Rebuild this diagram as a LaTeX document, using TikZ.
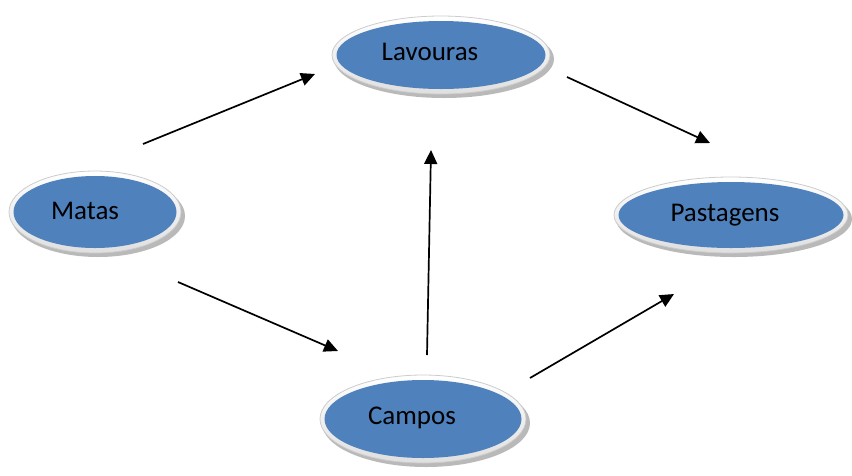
\documentclass[tikz,border=0pt]{standalone}
\usepackage{fontspec}
\setmainfont{Carlito}
\usetikzlibrary{shapes.geometric,arrows.meta}
\definecolor{blob}{HTML}{4F81BD}
\tikzset{
  rim/.style={ellipse, draw=gray!40, line width=0.8pt, top color=white, bottom color=gray!25, inner sep=0pt},
  shade/.style={ellipse, fill=gray!55, inner sep=0pt, draw=none},
  blue/.style={ellipse, fill=blob, draw=none, inner sep=0pt},
  lbl/.style={font=\fontsize{27}{31}\selectfont, text=black, inner sep=0pt},
  arr/.style={line width=1.7pt, -{Triangle[length=14pt,width=13pt]}}
}
\newcommand{\blobnode}[5]{% name, x, y, w, h
  \node[shade, minimum width=#4pt+2pt, minimum height=#5pt] at (#2+3,#3+4) {};
  \node[rim, minimum width=#4pt, minimum height=#5pt] (#1) at (#2,#3) {};
  \node[blue, minimum width=#4pt-9pt, minimum height=#5pt-10pt] (#1in) at (#2,#3) {};
}
\begin{document}
\begin{tikzpicture}[x=1pt,y=-1pt]
\useasboundingbox (0,0) rectangle (852,475);
\blobnode{lav}{441}{55}{218}{78}
\blobnode{mat}{95}{212}{172}{82}
\blobnode{pas}{731}{215}{234}{76}
\blobnode{cam}{423}{419}{206}{88}
\node[lbl] (lavt) at (430,52) {Lavouras};
\node[lbl] (matt) at (85,211) {Matas};
\node[lbl] (past) at (725,215) {Pastagens};
\node[lbl] (camt) at (412,418) {Campos};
\draw[arr] ([shift={(48,-68)}]mat.center) -- ([shift={(-126,19)}]lav.center);
\draw[arr] ([shift={(126,22)}]lav.center) -- ([shift={(-21,-72)}]pas.center);
\draw[arr] ([shift={(83,70)}]mat.center) -- ([shift={(-85,-68)}]cam.center);
\draw[arr] ([shift={(4,-64)}]cam.center) -- ([shift={(-10,95)}]lav.center);
\draw[arr] ([shift={(107,-41)}]cam.center) -- ([shift={(-57,79)}]pas.center);
\end{tikzpicture}
\end{document}
